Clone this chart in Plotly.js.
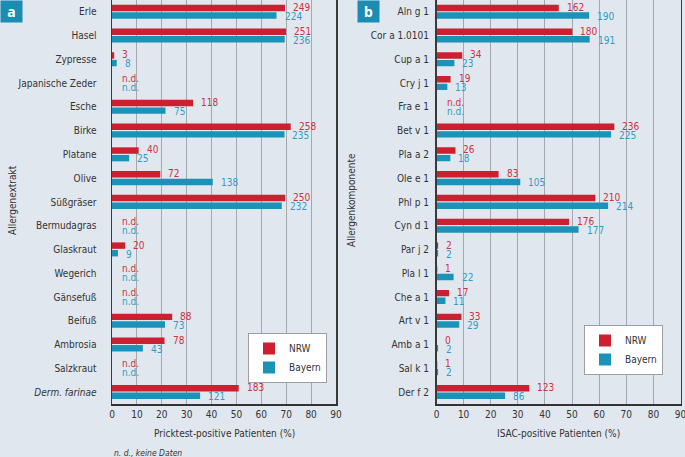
<!DOCTYPE html>
<html>
<head>
<meta charset="utf-8">
<script src="https://cdn.plot.ly/plotly-3.0.1.min.js"></script>
<style>html,body{margin:0;padding:0;background:#e1e7ee;}#chart{width:685px;height:457px;}</style>
</head>
<body>
<div id="chart"></div>
<script>
// ---- Data (panel a: Allergenextrakt, Pricktest) ----
const catsA = ['Erle','Hasel','Zypresse','Japanische Zeder','Esche','Birke','Platane','Olive','Süßgräser','Bermudagras','Glaskraut','Wegerich','Gänsefuß','Beifuß','Ambrosia','Salzkraut','<i>Derm. farinae</i>'];
const nrwPctA = [69.5, 69.9, 0.9, null, 32.6, 71.8, 10.7, 19.4, 69.6, null, 5.3, null, null, 24.2, 21.1, null, 50.9];
const bayPctA = [66.1, 69.4, 1.9, null, 21.5, 69.3, 6.9, 40.5, 68.2, null, 2.4, null, null, 21.3, 12.4, null, 35.4];
const nrwCntA = ['249','251','3','n.d.','118','258','40','72','250','n.d.','20','n.d.','n.d.','88','78','n.d.','183'];
const bayCntA = ['224','236','8','n.d.','75','235','25','138','232','n.d.','9','n.d.','n.d.','73','43','n.d.','121'];

// ---- Data (panel b: Allergenkomponente, ISAC) ----
const catsB = ['Aln g 1','Cor a 1.0101','Cup a 1','Cry j 1','Fra e 1','Bet v 1','Pla a 2','Ole e 1','Phl p 1','Cyn d 1','Par j 2','Pla l 1','Che a 1','Art v 1','Amb a 1','Sal k 1','Der f 2'];
const nrwPctB = [45.1, 50.1, 9.5, 5.2, null, 65.6, 7.0, 22.9, 58.6, 48.9, 0.6, 0.3, 4.6, 9.2, 0, 0.3, 34.2];
const bayPctB = [56.3, 56.5, 6.6, 4.0, null, 64.4, 5.1, 30.9, 63.3, 52.4, 0.6, 6.3, 3.3, 8.4, 0.6, 0.6, 25.3];
const nrwCntB = ['162','180','34','19','n.d.','236','26','83','210','176','2','1','17','33','0','1','123'];
const bayCntB = ['190','191','23','13','n.d.','225','18','105','214','177','2','22','11','29','2','2','86'];

const seriesNames = ['NRW','Bayern'];
const xTicks = [0,10,20,30,40,50,60,70,80,90];

// ---- Styles ----
const F = '"DejaVu Sans Condensed", "Liberation Sans Narrow", sans-serif';
const RED = '#cc1f2f', BLUE = '#1b93b8';
const RED_T = '#cc3140', BLUE_T = '#2f9dc3';
const TXT = '#333333';
const W = 685, H = 457;
const FS = 10;

function bars(cats, vals, name, color, xa, ya, offset, leg, show) {
  return {type:'bar', orientation:'h', y:cats, x:vals, name:name, xaxis:xa, yaxis:ya,
    marker:{color:color, line:{width:0}}, width:0.27, offset:offset,
    legend:leg, showlegend:show, hoverinfo:'skip'};
}

const data = [
  bars(catsA, nrwPctA, seriesNames[0], RED, 'x', 'y', -0.30, 'legend', true),
  bars(catsA, bayPctA, seriesNames[1], BLUE, 'x', 'y', 0.02, 'legend', true),
  bars(catsB, nrwPctB, seriesNames[0], RED, 'x2', 'y2', -0.30, 'legend2', true),
  bars(catsB, bayPctB, seriesNames[1], BLUE, 'x2', 'y2', 0.02, 'legend2', true)
];

const annotations = [];
function addLabels(cats, pcts, cnts, color, xref, yref, yshift) {
  cats.forEach((c, i) => {
    const nd = cnts[i] === 'n.d.';
    annotations.push({x: nd ? 0 : pcts[i], y: c, xref: xref, yref: yref, text: cnts[i],
      showarrow:false, xanchor:'left', yanchor:'middle', xshift: nd ? 8 : 6, yshift: yshift,
      font:{family:F, size:FS, color:color}});
  });
}
addLabels(catsA, nrwPctA, nrwCntA, RED_T, 'x', 'y', 4.5);
addLabels(catsA, bayPctA, bayCntA, BLUE_T, 'x', 'y', -4.5);
addLabels(catsB, nrwPctB, nrwCntB, RED_T, 'x2', 'y2', 4.5);
addLabels(catsB, bayPctB, bayCntB, BLUE_T, 'x2', 'y2', -4.5);

function paperNote(x, y, text, size, extra) {
  return Object.assign({x:x/W, y:1-y/H, xref:'paper', yref:'paper', xanchor:'center', yanchor:'middle',
    text:text, showarrow:false, font:{family:F, size:size, color:TXT}}, extra || {});
}
// panel tags
[['a', 0], ['b', 357]].forEach(([t, x0]) => {
  annotations.push({x: x0/W, y: 1, xref:'paper', yref:'paper', xanchor:'left', yanchor:'top',
    text:'<b>'+t+'</b>', showarrow:false, width:21, height:21, bgcolor:'#1b8db3',
    font:{family:'Noto Sans, sans-serif', size:14, color:'#ffffff'}, align:'center', valign:'middle', borderpad:0});
});
// axis titles and footnote
annotations.push(paperNote(12, 200, 'Allergenextrakt', FS, {textangle:-90}));
annotations.push(paperNote(351, 200, 'Allergenkomponente', FS, {textangle:-90}));
annotations.push(paperNote(224, 433, 'Pricktest-positive Patienten (%)', FS));
annotations.push(paperNote(558, 433, 'ISAC-positive Patienten (%)', FS));
annotations.push(paperNote(112, 453, '<i>n. d., keine Daten</i>', 8.5, {xanchor:'left'}));

const yDom = [1-404/H, 1];
function xax(dom, anchor) {
  return {domain:dom, anchor:anchor, range:[0,90], tickvals:xTicks, showgrid:true, gridcolor:'#a3a8ae', gridwidth:1,
    zeroline:false, showline:true, linecolor:'#333', linewidth:1.5, ticks:'', ticklabeloverflow:'allow',
    tickfont:{family:F, size:FS, color:TXT}, fixedrange:true};
}
function yax(anchor, cats, len) {
  return {domain:yDom, anchor:anchor, type:'category', categoryorder:'array', categoryarray:cats,
    range:[16.5, -0.5], showgrid:false, zeroline:false, showline:true, mirror:true, linecolor:'#3a3a3a', linewidth:1.5,
    ticks:'outside', ticklen:len, tickcolor:'rgba(0,0,0,0)', tickfont:{family:F, size:FS, color:TXT}, fixedrange:true};
}
function leg(xr, yt) {
  return {x:xr/W, y:1-yt/H, xanchor:'right', yanchor:'top', bgcolor:'#ffffff', bordercolor:'#9aa0a6', borderwidth:1,
    font:{family:F, size:FS, color:TXT}, itemwidth:30, tracegroupgap:0};
}

const layout = {
  width:W, height:H, margin:{l:0,r:0,t:0,b:0}, paper_bgcolor:'#e1e7ee', plot_bgcolor:'#e1e7ee',
  barmode:'overlay', showlegend:true,
  xaxis: xax([112/W, 336/W], 'y'),
  yaxis: yax('x', catsA, 12),
  xaxis2: xax([436.5/W, 680.5/W], 'y2'),
  yaxis2: yax('x2', catsB, 4),
  legend: leg(327, 333),
  legend2: leg(663, 325),
  annotations: annotations
};

Plotly.newPlot('chart', data, layout, {displayModeBar:false, staticPlot:true});
</script>
</body>
</html>
